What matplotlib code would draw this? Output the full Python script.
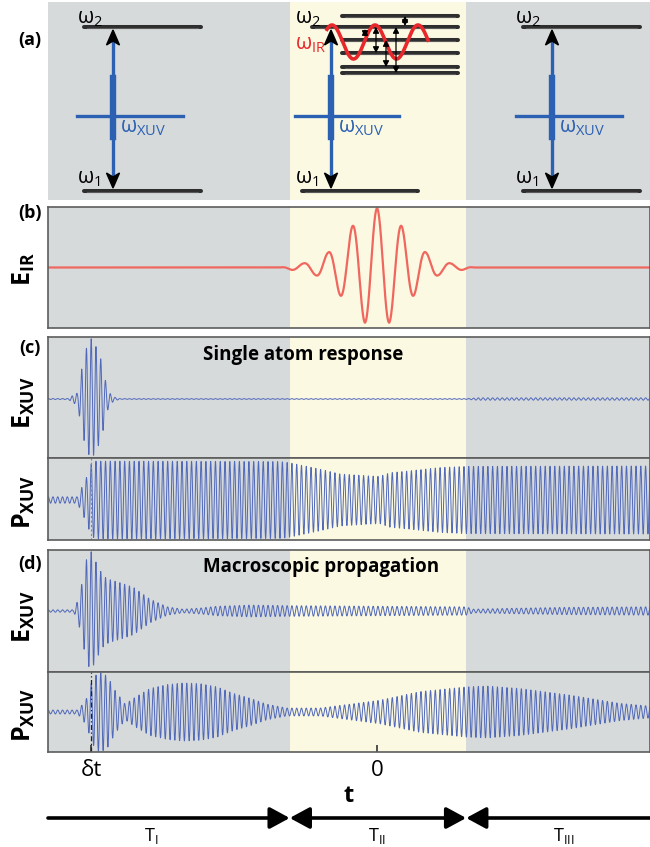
import numpy as np
import matplotlib.pyplot as plt
from matplotlib.patches import Polygon

plt.rcParams['font.family'] = ['Open Sans', 'DejaVu Sans']
plt.rcParams['mathtext.fontset'] = 'custom'
plt.rcParams['mathtext.rm'] = 'Open Sans'
plt.rcParams['mathtext.bf'] = 'Open Sans:bold'
plt.rcParams['mathtext.it'] = 'Open Sans:italic'

# ---- data (time in fs-like units, t = 0 at the IR peak) ----
T_LIM = (-35.8, 29.7)
REGIONS = [(-35.8, -9.5), (-9.5, 9.7), (9.7, 29.7)]
REGION_LABELS = [r'$\mathrm{T}_{\mathrm{I}}$', r'$\mathrm{T}_{\mathrm{II}}$', r'$\mathrm{T}_{\mathrm{III}}$']
REGION_LABEL_T = [-24.6, 0.0, 20.3]
DELTA_T = -31.1
IR_PERIOD = 2.66
XUV_PERIOD = 0.52

# envelopes (knot time, relative amplitude)
IR_ENV_T = [-10.5, -9.3, -8.0, -6.66, -5.33, -4.0, -2.66, -1.33, 0.0,
            1.33, 2.66, 4.0, 5.33, 6.66, 8.0, 9.3, 10.5]
IR_ENV_A = [0.0, 0.04, 0.07, 0.13, 0.25, 0.47, 0.7, 0.93, 1.0,
            0.93, 0.7, 0.47, 0.25, 0.13, 0.07, 0.04, 0.0]

E_SINGLE_T = [-35.8, -33.6, -33.0, -32.6, -32.2, -31.7, -31.1, -30.5, -29.9,
              -29.5, -29.1, -28.6, -28.0, 9.7, 11.0, 29.7]
E_SINGLE_A = [0.008, 0.008, 0.07, 0.1, 0.45, 0.82, 1.0, 0.85, 0.6,
              0.27, 0.1, 0.03, 0.006, 0.006, 0.02, 0.02]

P_SINGLE_T = [-35.8, -32.6, -32.1, -31.6, -31.1, -30.6, -10.5, -9.5, -6.2,
              -4.0, -0.7, 0.3, 1.4, 3.6, 6.8, 9.7, 29.7]
P_SINGLE_A = [0.08, 0.08, 0.33, 0.57, 0.9, 0.97, 0.96, 0.93, 0.77,
              0.65, 0.6, 0.59, 0.68, 0.73, 0.81, 0.84, 0.85]

E_MACRO_T = [-35.8, -33.0, -32.5, -32.0, -31.6, -31.1, -30.5, -29.9, -29.5,
             -28.9, -28.0, -26.5, -24.7, -22.8, -21.1, -19.2, -17.4, -13.8,
             -9.5, 0.0, 9.7, 10.5, 13.0, 20.0, 29.7]
E_MACRO_A = [0.02, 0.02, 0.2, 0.54, 0.88, 1.0, 0.8, 0.62, 0.56,
             0.52, 0.48, 0.4, 0.2, 0.07, 0.03, 0.05, 0.08, 0.1,
             0.09, 0.08, 0.07, 0.03, 0.04, 0.06, 0.07]

P_MACRO_T = [-35.8, -32.6, -32.2, -31.6, -31.0, -30.4, -29.9, -29.3, -28.5,
             -27.4, -26.5, -24.7, -22.8, -21.1, -19.2, -17.4, -15.7, -13.8,
             -12.0, -9.8, -6.2, 0.3, 4.7, 9.7, 12.0, 15.5, 21.0, 26.4, 29.7]
P_MACRO_A = [0.05, 0.05, 0.15, 0.35, 0.8, 1.0, 1.0, 0.9, 0.55,
             0.2, 0.35, 0.6, 0.7, 0.74, 0.72, 0.64, 0.48, 0.35,
             0.2, 0.1, 0.1, 0.3, 0.52, 0.64, 0.66, 0.6, 0.43, 0.22, 0.15]

GRAY = '#d6dadb'
YELLOW = '#fbf9e2'
REGION_COLORS = [GRAY, YELLOW, GRAY]
WAVE_BLUE = '#5068ba'
IR_RED = '#ef675e'
DIAG_BLUE = '#2b60b3'
DIAG_RED = '#e8282b'
FRAME = '#5c5c5c'

W, H = 650, 847
fig = plt.figure(figsize=(W / 100, H / 100), dpi=100)


def px_axes(x0, y0, x1, y1, **kw):
    return fig.add_axes([x0 / W, 1 - y1 / H, (x1 - x0) / W, (y1 - y0) / H], **kw)


t = np.linspace(T_LIM[0], T_LIM[1], 30000)


def carrier(env_t, env_a, period, t0):
    return np.interp(t, env_t, env_a) * np.cos(2 * np.pi * (t - t0) / period)


def time_panel(ax, ylim, frame=True):
    for (a, b), c in zip(REGIONS, REGION_COLORS):
        ax.axvspan(a, b, color=c, lw=0, zorder=0)
    ax.set_xlim(T_LIM)
    ax.set_ylim(ylim)
    ax.set_xticks([])
    ax.set_yticks([])
    for s in ax.spines.values():
        s.set_color(FRAME if frame else 'none')
        s.set_linewidth(1.2)


ax_a = px_axes(48, 2, 650, 200)
time_panel(ax_a, (0, 1), frame=False)

ax_b = px_axes(48, 207, 650, 328)
time_panel(ax_b, (-1.02, 1.02))
ax_b.plot(t, carrier(IR_ENV_T, IR_ENV_A, IR_PERIOD, 0.0), color=IR_RED, lw=1.6)

ax_ce = px_axes(48, 337, 650, 458)
time_panel(ax_ce, (-0.98, 1.03))
ax_ce.plot(t, carrier(E_SINGLE_T, E_SINGLE_A, XUV_PERIOD, DELTA_T), color=WAVE_BLUE, lw=0.7)

ax_cp = px_axes(48, 458, 650, 540)
time_panel(ax_cp, (-1.0, 1.05))
ax_cp.plot(t, carrier(P_SINGLE_T, P_SINGLE_A, XUV_PERIOD, DELTA_T), color=WAVE_BLUE, lw=0.7)
ax_cp.axvline(DELTA_T, color='#8a8a8a', lw=0.8, ls=(0, (2, 2)))

ax_de = px_axes(48, 550, 650, 672)
time_panel(ax_de, (-1.03, 1.03))
ax_de.plot(t, carrier(E_MACRO_T, E_MACRO_A, XUV_PERIOD, DELTA_T), color=WAVE_BLUE, lw=0.7)

ax_dp = px_axes(48, 672, 650, 752)
time_panel(ax_dp, (-1.02, 1.02))
ax_dp.plot(t, carrier(P_MACRO_T, P_MACRO_A, XUV_PERIOD, DELTA_T), color=WAVE_BLUE, lw=0.7)
ax_dp.axvline(DELTA_T, color='#222222', lw=0.9, ls=(0, (4, 2, 1, 2)))
ax_dp.set_xticks([DELTA_T, 0.0])
ax_dp.set_xticklabels(['δt', '0'], fontsize=16)
ax_dp.tick_params(axis='x', direction='in', length=5, width=1.2, color='#333333', pad=6)
ax_dp.set_xlabel('t', fontsize=17, fontweight='bold', labelpad=2)

# region arrows under the time axis
ax_t = px_axes(48, 800, 650, 847)
ax_t.set_xlim(T_LIM)
ax_t.set_ylim(47, 0)
ax_t.axis('off')
styles = ['-|>', '<|-|>', '<|-']
for (a, b), st, lab, lt in zip(REGIONS, styles, REGION_LABELS, REGION_LABEL_T):
    ax_t.annotate('', xy=(b, 18), xytext=(a, 18),
                  arrowprops=dict(arrowstyle=st + ',head_length=1.2,head_width=0.65',
                                  mutation_scale=10, lw=2.6, color='black',
                                  shrinkA=0, shrinkB=0), annotation_clip=False)
    ax_t.text(lt, 36, lab, ha='center', va='center', fontsize=13)

# ---- level diagrams of panel (a), drawn in pixel space ----
ov = px_axes(0, 0, 650, 847, zorder=5)
ov.set_xlim(0, W)
ov.set_ylim(H, 0)
ov.axis('off')
ov.patch.set_alpha(0)

COL_X = [113, 331, 552]
UPPER_X = [(84, 201), (312, 458), (523, 640)]
LOWER_X = [(84, 201), (302, 418), (523, 640)]
CROSS_X = [(77, 183), (295, 399), (516, 622)]
LABEL_X = [77, 295, 515]
Y_UP, Y_LOW, Y_CROSS = 27, 191, 116
IR_LEVELS_Y = [16, 40, 53, 67, 73]
IR_LEVELS_X = (342, 458)
IR_ARROWS = [(405, 16, 26), (365, 29, 37), (376, 27, 53), (386, 40, 67), (396, 27, 73)]


def level(x0, x1, y):
    ov.plot([x0, x1], [y, y], color='#2e2e2e', lw=2.9, solid_capstyle='round', zorder=2)
    ov.plot([x0 + 3, x1 - 3], [y + 0.6, y + 0.6], color='#5a5a5a', lw=0.8, zorder=2)


def head(x, ytip, direction):
    d = 1 if direction == 'down' else -1
    pts = [(x, ytip), (x - 6.5, ytip - d * 15), (x, ytip - d * 11), (x + 6.5, ytip - d * 15)]
    ov.add_patch(Polygon(pts, closed=True, color='black', zorder=6))


for i in range(3):
    x = COL_X[i]
    level(*UPPER_X[i], Y_UP)
    level(*LOWER_X[i], Y_LOW)
    ov.plot([x, x], [Y_UP + 12, Y_LOW - 12], color=DIAG_BLUE, lw=2.4, zorder=4)
    ov.plot([x, x], [78, 137], color=DIAG_BLUE, lw=4.6, zorder=4)
    ov.plot(list(CROSS_X[i]), [Y_CROSS, Y_CROSS], color=DIAG_BLUE, lw=2.4, zorder=4)
    head(x, Y_UP + 3, 'up')
    head(x, Y_LOW - 3, 'down')
    ov.text(LABEL_X[i], 19, r'$\mathrm{\omega}_{2}$', fontsize=15, ha='left', va='center', zorder=7)
    ov.text(LABEL_X[i], 179, r'$\mathrm{\omega}_{1}$', fontsize=15, ha='left', va='center', zorder=7)
    ov.text(x + 7, 128, r'$\mathrm{\omega}_{\mathrm{XUV}}$', fontsize=15, color=DIAG_BLUE,
            ha='left', va='center', zorder=7)

for y in IR_LEVELS_Y:
    level(*IR_LEVELS_X, y)
for x, y0, y1 in IR_ARROWS:
    ov.annotate('', xy=(x, y1), xytext=(x, y0),
                arrowprops=dict(arrowstyle='<|-|>,head_length=0.35,head_width=0.18',
                                mutation_scale=10, lw=0.9, color='black',
                                shrinkA=0, shrinkB=0), zorder=6)
xw = np.linspace(327, 428, 200)
ov.plot(xw, 42 - 17 * np.cos(2 * np.pi * (xw - 332) / 43), color=DIAG_RED, lw=2.6, zorder=5)
ov.text(295, 45, r'$\mathrm{\omega}_{\mathrm{IR}}$', fontsize=15, color=DIAG_RED,
        ha='left', va='center', zorder=7)

# ---- panel labels and titles ----
for lab, y in [('(a)', 40), ('(b)', 213), ('(c)', 348), ('(d)', 564)]:
    ov.text(30, y, lab, fontsize=13, fontweight='bold', ha='center', va='center')

for lab, y in [(r'$\mathbf{E}_{\mathbf{IR}}$', 269), (r'$\mathbf{E}_{\mathbf{XUV}}$', 403),
               (r'$\mathbf{P}_{\mathbf{XUV}}$', 502), (r'$\mathbf{E}_{\mathbf{XUV}}$', 617),
               (r'$\mathbf{P}_{\mathbf{XUV}}$', 715)]:
    ov.text(24, y, lab, fontsize=18, rotation=90, ha='center', va='center')

ov.text(203, 355, 'Single atom response', fontsize=13.5, fontweight='bold', ha='left', va='center')
ov.text(203, 567, 'Macroscopic propagation', fontsize=13.5, fontweight='bold', ha='left', va='center')

fig.savefig('out.png', dpi=100)
